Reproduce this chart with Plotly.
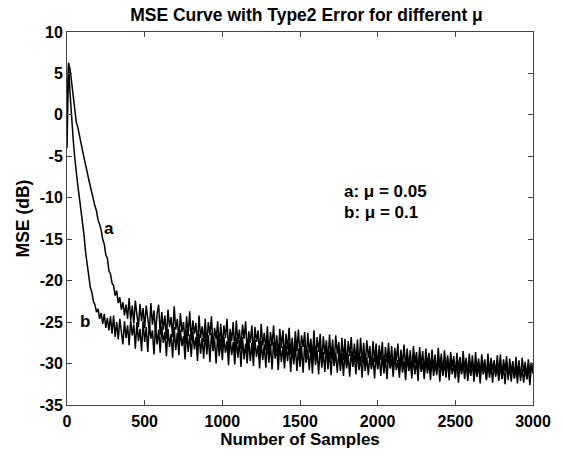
import plotly.graph_objects as go

# sample index axis (every 10 samples)
samples = list(range(0, 3001, 10))

mse_a = [
    -4.0, 6.3, 5.5, 4.0, 2.2, 0.6, -0.9, -1.5, -2.6, -3.6,
    -4.3, -5.2, -6.3, -6.9, -7.8, -8.7, -9.3, -10.3, -11.0, -11.6,
    -12.7, -13.2, -13.9, -15.0, -15.6, -16.9, -17.3, -18.8, -19.2, -20.3,
    -20.6, -21.8, -21.2, -22.7, -22.0, -23.5, -22.6, -24.2, -22.9, -24.6,
    -22.1, -24.8, -23.0, -25.2, -22.4, -24.1, -25.6, -22.8, -24.9, -23.3,
    -25.7, -23.0, -24.6, -26.1, -22.7, -25.3, -23.6, -26.4, -24.0, -22.9,
    -26.5, -23.8, -25.9, -24.2, -27.0, -23.5, -25.6, -24.4, -26.8, -23.1,
    -25.9, -24.6, -27.3, -23.9, -26.2, -25.0, -27.6, -24.3, -26.7, -23.7,
    -27.2, -24.8, -26.4, -25.1, -28.0, -24.2, -26.9, -25.5, -27.4, -24.6,
    -27.8, -25.0, -26.6, -24.3, -28.3, -25.7, -27.1, -24.9, -27.9, -25.2,
    -28.1, -25.4, -26.9, -24.6, -28.5, -25.8, -27.3, -25.0, -28.7, -24.8,
    -27.6, -25.9, -28.2, -25.3, -27.0, -24.9, -28.8, -26.1, -27.5, -25.4,
    -28.9, -25.6, -27.4, -26.0, -29.1, -25.2, -27.8, -26.3, -28.4, -25.5,
    -29.0, -26.2, -27.9, -25.4, -28.7, -26.6, -29.3, -25.8, -28.1, -26.0,
    -29.4, -26.4, -28.3, -25.7, -28.9, -26.9, -29.6, -26.1, -28.5, -25.9,
    -29.2, -26.6, -28.0, -26.2, -29.8, -26.3, -28.7, -27.0, -29.5, -26.0,
    -29.7, -26.8, -28.6, -26.4, -30.0, -26.7, -28.9, -27.2, -29.9, -26.5,
    -29.4, -27.1, -30.2, -26.6, -28.8, -27.4, -30.1, -26.9, -29.6, -27.0,
    -30.3, -27.3, -29.1, -26.8, -30.0, -27.6, -29.8, -27.1, -30.5, -26.9,
    -29.9, -27.5, -30.4, -27.2, -29.3, -27.9, -30.7, -27.3, -29.8, -27.6,
    -30.6, -27.8, -29.6, -27.4, -30.9, -28.0, -29.9, -27.5, -30.4, -27.9,
    -30.8, -28.1, -29.7, -27.6, -31.0, -28.3, -30.2, -27.7, -30.6, -28.2,
    -30.5, -28.4, -31.2, -27.9, -30.0, -28.6, -31.1, -28.0, -30.3, -28.5,
    -31.3, -28.2, -30.4, -28.7, -31.0, -28.3, -30.7, -28.9, -31.4, -28.1,
    -30.6, -28.8, -31.5, -28.4, -30.9, -29.0, -31.2, -28.6, -30.4, -29.1,
    -31.6, -28.7, -30.8, -29.2, -31.3, -28.5, -30.6, -29.3, -31.7, -28.8,
    -31.1, -29.0, -31.8, -28.6, -30.9, -29.4, -31.5, -28.9, -30.7, -29.5,
    -31.9, -28.8, -31.2, -29.3, -30.8, -29.6, -31.6, -29.0, -31.3, -28.9,
    -31.7, -29.5, -30.9, -29.1, -32.0, -29.4, -31.1, -29.7, -31.8, -29.2,
    -31.4, -29.6, -32.1, -29.3, -31.0, -29.8, -31.9, -29.5, -31.2, -29.9,
    -30.8,
]

mse_b = [
    0.5, 6.0, 2.5, -0.8, -3.0, -5.2, -7.3, -8.6, -10.0, -11.4,
    -13.0, -14.6, -16.6, -18.2, -19.6, -20.8, -21.4, -22.5, -22.9, -23.8,
    -23.4, -24.6, -23.9, -25.2, -24.0, -25.7, -24.5, -26.0, -24.3, -26.4,
    -24.2, -26.8, -25.0, -27.1, -24.6, -26.3, -27.7, -24.9, -26.9, -25.4,
    -27.8, -24.8, -26.6, -25.3, -28.2, -25.0, -27.3, -25.8, -28.5, -24.9,
    -27.4, -25.6, -28.6, -25.1, -27.0, -26.0, -28.9, -25.4, -27.7, -25.9,
    -28.7, -25.5, -27.5, -26.2, -29.1, -25.8, -28.0, -26.4, -29.3, -25.6,
    -28.4, -26.3, -29.0, -25.9, -27.9, -26.7, -29.5, -26.0, -28.6, -26.5,
    -29.2, -26.1, -28.3, -26.8, -29.7, -26.4, -28.8, -26.9, -29.4, -26.2,
    -28.9, -26.6, -29.8, -26.3, -28.5, -27.1, -30.0, -26.5, -29.1, -27.0,
    -29.6, -26.8, -28.7, -27.3, -30.2, -26.7, -29.0, -27.4, -30.1, -26.9,
    -29.3, -27.2, -30.4, -26.8, -29.5, -27.6, -30.0, -27.0, -29.7, -27.5,
    -30.3, -27.1, -29.2, -27.8, -30.6, -27.3, -29.6, -27.7, -30.5, -27.2,
    -29.9, -27.6, -30.7, -27.4, -29.4, -28.0, -30.8, -27.5, -29.8, -27.9,
    -30.6, -27.8, -29.7, -27.5, -31.0, -28.1, -30.1, -27.7, -30.9, -28.2,
    -30.4, -27.9, -31.1, -27.6, -29.9, -28.3, -30.8, -28.0, -31.2, -27.8,
    -30.2, -28.4, -31.3, -27.9, -30.5, -28.6, -31.0, -28.1, -30.7, -28.5,
    -31.4, -28.2, -30.3, -28.7, -31.1, -28.4, -30.9, -28.8, -31.5, -28.3,
    -30.6, -28.9, -31.6, -28.5, -30.4, -29.0, -31.3, -28.6, -30.8, -29.1,
    -31.7, -28.7, -30.9, -29.2, -31.4, -28.8, -30.5, -29.3, -31.8, -28.6,
    -30.7, -29.0, -31.5, -28.9, -31.2, -29.4, -31.9, -28.8, -30.6, -29.5,
    -31.6, -28.9, -30.8, -29.6, -31.7, -29.0, -31.1, -29.7, -32.0, -29.1,
    -30.9, -29.8, -31.8, -29.2, -31.3, -29.5, -32.1, -29.0, -31.0, -29.9,
    -31.9, -29.3, -31.2, -29.8, -32.0, -29.4, -31.5, -30.0, -31.1, -29.2,
    -32.2, -29.6, -31.4, -29.9, -31.7, -29.3, -32.0, -29.7, -31.3, -30.1,
    -31.8, -29.5, -32.3, -30.0, -31.2, -29.8, -31.9, -29.6, -32.1, -30.2,
    -31.5, -29.7, -32.2, -30.1, -31.6, -29.9, -32.4, -29.8, -31.3, -30.3,
    -32.0, -29.9, -31.7, -30.2, -32.3, -29.8, -31.4, -30.4, -32.1, -30.0,
    -31.9, -30.3, -32.5, -29.9, -31.6, -30.5, -32.2, -30.1, -31.8, -30.4,
    -32.4, -30.0, -31.7, -30.6, -32.3, -30.2, -31.9, -30.5, -32.6, -30.1,
    -31.2,
]

curve_labels = ["a", "b"]
curve_label_pos = [(269, -13.7), (113, -24.9)]
legend_lines = ["a: \u03bc = 0.05", "b: \u03bc = 0.1"]
legend_pos = [(1772, -9.3), (1772, -11.8)]

x_ticks = [0, 500, 1000, 1500, 2000, 2500, 3000]
y_ticks = [-35, -30, -25, -20, -15, -10, -5, 0, 5, 10]
x_tick_text = [str(v) for v in x_ticks]
y_tick_text = [str(v) for v in y_ticks]

FONT = "Liberation Sans, Arial, Helvetica, sans-serif"

fig = go.Figure()
for series in (mse_a, mse_b):
    fig.add_trace(go.Scatter(x=samples, y=series, mode="lines",
                             line=dict(color="black", width=1.5), showlegend=False))

annotations = []
for txt, (ax, ay) in zip(curve_labels, curve_label_pos):
    annotations.append(dict(x=ax, y=ay, xref="x", yref="y", text=txt,
                            showarrow=False, xanchor="center", yanchor="middle",
                            font=dict(family=FONT, size=17, color="black", weight="bold")))
for txt, (ax, ay) in zip(legend_lines, legend_pos):
    annotations.append(dict(x=ax, y=ay, xref="x", yref="y", text=txt,
                            showarrow=False, xanchor="left", yanchor="middle",
                            font=dict(family=FONT, size=17, color="black", weight="bold")))

fig.update_layout(
    width=563, height=456,
    margin=dict(l=67, r=17, t=32, b=50),
    paper_bgcolor="white", plot_bgcolor="white",
    font=dict(family=FONT, size=16, color="black", weight="bold"),
    title=dict(text="MSE Curve with Type2 Error for different \u03bc",
               x=306.5 / 563, xanchor="center", y=1 - 14.5 / 456, yanchor="middle",
               yref="container", xref="container",
               font=dict(family=FONT, size=17.5, color="black", weight="bold")),
    annotations=annotations,
    showlegend=False,
)
fig.update_xaxes(range=[0, 3000], tickvals=x_ticks, ticktext=x_tick_text,
                 ticks="inside", ticklen=5, ticklabeloverflow="allow",
                 tickcolor="#444", showline=True, linecolor="#444", linewidth=1,
                 mirror="allticks", showgrid=False, zeroline=False,
                 ticklabelstandoff=2,
                 title=dict(text="Number of Samples", standoff=2,
                            font=dict(family=FONT, size=17, color="black", weight="bold")),
                 tickfont=dict(family=FONT, size=16, color="black", weight="bold"))
fig.update_yaxes(range=[-35, 10], tickvals=y_ticks, ticktext=y_tick_text,
                 ticks="inside", ticklen=5, ticklabeloverflow="allow",
                 tickcolor="#444", showline=True, linecolor="#444", linewidth=1,
                 mirror="allticks", showgrid=False, zeroline=False,
                 title=dict(text="MSE (dB)", standoff=5,
                            font=dict(family=FONT, size=17.5, color="black", weight="bold")),
                 tickfont=dict(family=FONT, size=16, color="black", weight="bold"))

fig.write_html("out.html")
